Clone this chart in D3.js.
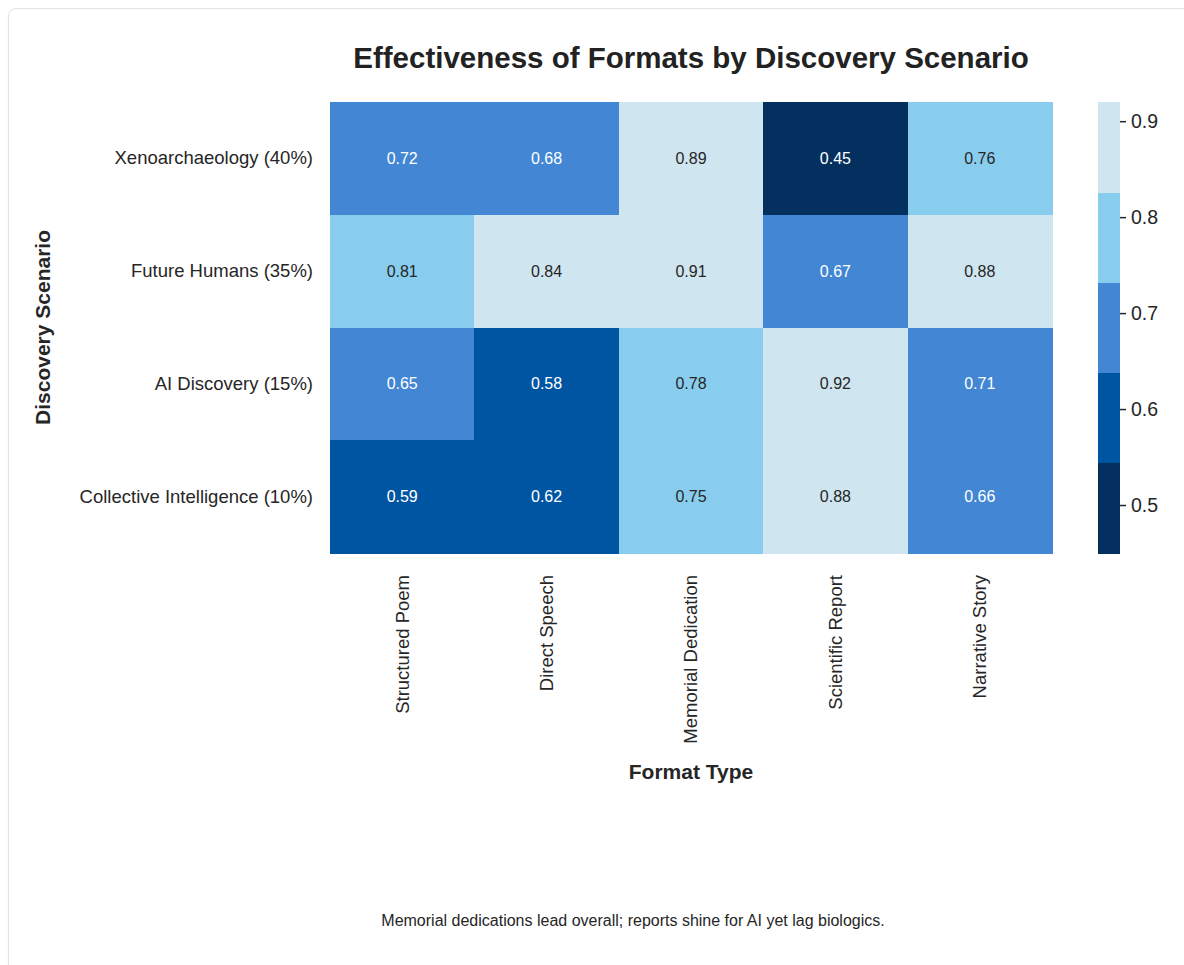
<!DOCTYPE html>
<html>
<head>
<meta charset="utf-8">
<script src="https://cdn.jsdelivr.net/npm/d3@7"></script>
<style>
  body { margin: 0; background: #fff; font-family: "Liberation Sans", Arial, sans-serif; }
  .card { position: absolute; left: 8px; top: 8px; width: 1250px; height: 1000px;
          border: 1px solid #e3e3e3; border-radius: 8px; box-shadow: 0 1px 3px rgba(0,0,0,0.06); }
  svg { position: absolute; left: 0; top: 0; }
</style>
</head>
<body>
<div class="card"></div>
<div id="chart"></div>
<script>
const formats = ["Structured Poem", "Direct Speech", "Memorial Dedication", "Scientific Report", "Narrative Story"];
const scenarios = ["Xenoarchaeology (40%)", "Future Humans (35%)", "AI Discovery (15%)", "Collective Intelligence (10%)"];
const values = [
    [0.72, 0.68, 0.89, 0.45, 0.76],
    [0.81, 0.84, 0.91, 0.67, 0.88],
    [0.65, 0.58, 0.78, 0.92, 0.71],
    [0.59, 0.62, 0.75, 0.88, 0.66]
];
const palette = ["#03305f", "#0055a2", "#4286d4", "#88cdee", "#cfe5ef"];
const colorTicks = [0.5, 0.6, 0.7, 0.8, 0.9];

const width = 1184, height = 965;
const margin = { left: 330, top: 102, right: 1052, bottom: 553 };
const font = "'Liberation Sans', Arial, sans-serif";

const svg = d3.select("#chart").append("svg")
    .attr("width", width)
    .attr("height", height)
    .style("font-family", font);

const cells = [];
values.forEach((row, i) => row.forEach((v, j) => cells.push({ row: scenarios[i], col: formats[j], value: v })));

const x = d3.scaleBand().domain(formats).range([margin.left, margin.right]);
const y = d3.scaleBand().domain(scenarios).range([margin.top, margin.bottom]);
const flat = values.flat();
const color = d3.scaleQuantize().domain([d3.min(flat), d3.max(flat)]).range(palette);

// title
svg.append("text")
    .attr("x", (margin.left + margin.right) / 2)
    .attr("y", 68)
    .attr("text-anchor", "middle")
    .attr("font-size", "29.5px")
    .attr("font-weight", "bold")
    .attr("fill", "#222")
    .text("Effectiveness of Formats by Discovery Scenario");

// heat cells
svg.append("g")
    .attr("shape-rendering", "crispEdges")
    .selectAll("rect")
    .data(cells)
    .enter().append("rect")
    .attr("x", d => x(d.col))
    .attr("y", d => y(d.row))
    .attr("width", x.bandwidth() + 0.5)
    .attr("height", y.bandwidth() + 0.5)
    .attr("fill", d => color(d.value));

svg.append("g")
    .selectAll("text")
    .data(cells)
    .enter().append("text")
    .attr("x", d => x(d.col) + x.bandwidth() / 2)
    .attr("y", d => y(d.row) + y.bandwidth() / 2)
    .attr("dy", "0.35em")
    .attr("text-anchor", "middle")
    .attr("font-size", "16px")
    .attr("fill", d => palette.indexOf(color(d.value)) < 3 ? "#ffffff" : "#262626")
    .text(d => d.value.toFixed(2));

// y axis labels
const yAxis = svg.append("g")
    .attr("transform", "translate(" + margin.left + ",0)")
    .call(d3.axisLeft(y).tickSize(0).tickPadding(17));
yAxis.select(".domain").remove();
yAxis.selectAll("text").attr("font-size", "18.5px").attr("fill", "#262626").style("font-family", font);

// x axis labels
const xAxis = svg.append("g")
    .attr("transform", "translate(0," + margin.bottom + ")")
    .call(d3.axisBottom(x).tickSize(0).tickPadding(0));
xAxis.select(".domain").remove();
xAxis.selectAll("text")
    .attr("font-size", "18.5px")
    .attr("fill", "#262626")
    .style("font-family", font)
    .attr("text-anchor", "end")
    .attr("transform", "rotate(-90)")
    .attr("x", -22)
    .attr("y", 0)
    .attr("dy", "0.35em");

// axis titles
svg.append("text")
    .attr("x", (margin.left + margin.right) / 2)
    .attr("y", 779)
    .attr("text-anchor", "middle")
    .attr("font-size", "21px")
    .attr("font-weight", "bold")
    .attr("fill", "#262626")
    .text("Format Type");

svg.append("text")
    .attr("transform", "translate(50," + (margin.top + margin.bottom) / 2 + ") rotate(-90)")
    .attr("text-anchor", "middle")
    .attr("font-size", "21px")
    .attr("font-weight", "bold")
    .attr("fill", "#262626")
    .text("Discovery Scenario");

// colorbar
const cbX = 1098, cbW = 22;
const cbScale = d3.scaleLinear().domain(color.domain()).range([margin.bottom, margin.top]);
const bins = palette.map(c => color.invertExtent(c));
svg.append("g")
    .attr("shape-rendering", "crispEdges")
    .selectAll("rect")
    .data(bins)
    .enter().append("rect")
    .attr("x", cbX)
    .attr("y", d => cbScale(d[1]))
    .attr("width", cbW)
    .attr("height", d => cbScale(d[0]) - cbScale(d[1]) + 0.5)
    .attr("fill", d => color((d[0] + d[1]) / 2));

const cbAxis = svg.append("g")
    .attr("transform", "translate(" + (cbX + cbW) + ",0)")
    .call(d3.axisRight(cbScale).tickValues(colorTicks).tickFormat(d3.format(".1f")).tickSize(6).tickPadding(5));
cbAxis.select(".domain").remove();
cbAxis.selectAll("line").attr("stroke", "#262626").attr("stroke-width", 1.5);
cbAxis.selectAll("text").attr("font-size", "19.5px").attr("fill", "#262626").style("font-family", font);

// footnote
svg.append("text")
    .attr("x", 633)
    .attr("y", 926)
    .attr("text-anchor", "middle")
    .attr("font-size", "16px")
    .attr("fill", "#262626")
    .text("Memorial dedications lead overall; reports shine for AI yet lag biologics.");
</script>
</body>
</html>
